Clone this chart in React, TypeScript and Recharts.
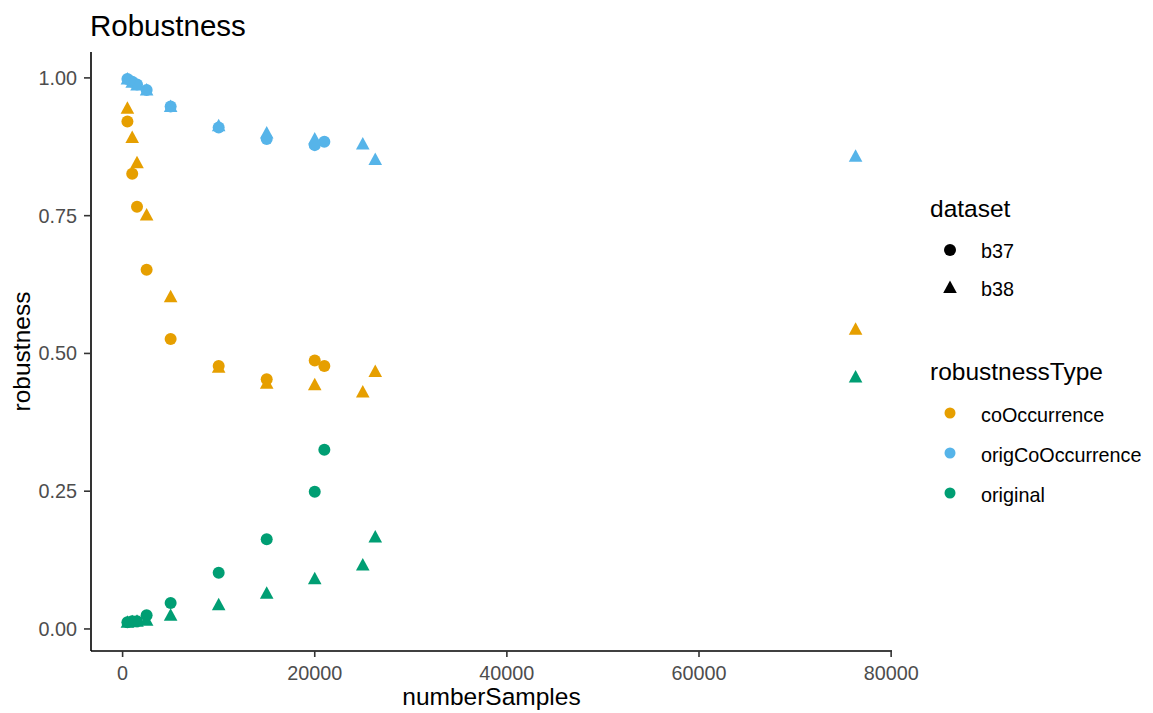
import React from "react";
import { ScatterChart, Scatter, XAxis, YAxis } from "recharts";

// sample counts per dataset
const samplesB37 = [500, 1000, 1500, 2500, 5000, 10000, 15000, 20000, 21000];
const samplesB38 = [500, 1000, 1500, 2500, 5000, 10000, 15000, 20000, 25000, 26300, 76300];

// robustness values, b37 (circles)
const coOccurrenceB37 = [0.921, 0.826, 0.766, 0.652, 0.526, 0.477, 0.453, 0.487, 0.477];
const origCoOccurrenceB37 = [0.998, 0.993, 0.988, 0.978, 0.948, 0.91, 0.889, 0.878, 0.884];
const originalB37 = [0.012, 0.014, 0.014, 0.025, 0.047, 0.102, 0.163, 0.249, 0.325];

// robustness values, b38 (triangles)
const coOccurrenceB38 = [0.945, 0.892, 0.846, 0.751, 0.603, 0.475, 0.446, 0.443, 0.43, 0.467, 0.544];
const origCoOccurrenceB38 = [0.998, 0.992, 0.987, 0.978, 0.948, 0.913, 0.9, 0.889, 0.88, 0.852, 0.858];
const originalB38 = [0.012, 0.013, 0.014, 0.016, 0.025, 0.044, 0.065, 0.091, 0.116, 0.167, 0.457];

const xTicks = [0, 20000, 40000, 60000, 80000];
const yTicks = [0, 0.25, 0.5, 0.75, 1];

const typeNames = ["coOccurrence", "origCoOccurrence", "original"];
const typeColors = ["#E69F00", "#56B4E9", "#009E73"];
const datasetNames = ["b37", "b38"];

const FONT = "'Liberation Sans', Arial, sans-serif";
const W = 1137;
const H = 705;

const toPoints = (xs: number[], ys: number[]) => xs.map((x, i) => ({ x, y: ys[i] }));

function Mark({ cx, cy, fill, kind }: { cx: number; cy: number; fill: string; kind: string }) {
  if (cx == null || cy == null) return null;
  if (kind === "triangle") {
    return <polygon points={`${cx},${cy - 7} ${cx - 6.8},${cy + 5.5} ${cx + 6.8},${cy + 5.5}`} fill={fill} />;
  }
  return <circle cx={cx} cy={cy} r={6} fill={fill} />;
}

const series = [
  { name: "coOccurrence b37", data: toPoints(samplesB37, coOccurrenceB37), color: typeColors[0], kind: "circle" },
  { name: "origCoOccurrence b37", data: toPoints(samplesB37, origCoOccurrenceB37), color: typeColors[1], kind: "circle" },
  { name: "original b37", data: toPoints(samplesB37, originalB37), color: typeColors[2], kind: "circle" },
  { name: "coOccurrence b38", data: toPoints(samplesB38, coOccurrenceB38), color: typeColors[0], kind: "triangle" },
  { name: "origCoOccurrence b38", data: toPoints(samplesB38, origCoOccurrenceB38), color: typeColors[1], kind: "triangle" },
  { name: "original b38", data: toPoints(samplesB38, originalB38), color: typeColors[2], kind: "triangle" },
];

const tickStyle = { fontSize: 19.8, fill: "#4D4D4D", fontFamily: FONT };

export default function App() {
  return (
    <div style={{ position: "relative", width: W, height: H, fontFamily: FONT }}>
      <ScatterChart width={W} height={H} margin={{ top: 44, right: 253, bottom: 0, left: 0 }}>
        <XAxis
          dataKey="x"
          type="number"
          domain={[-3290, 80090]}
          allowDataOverflow
          ticks={xTicks}
          height={62}
          tickSize={6}
          tickMargin={9}
          tick={tickStyle}
          axisLine={{ stroke: "#000", strokeWidth: 1.6 }}
          tickLine={{ stroke: "#333", strokeWidth: 1.6 }}
          label={(p: any) => {
            const vb = p.viewBox;
            return (
              <text x={vb.x + vb.width / 2} y={H - 8} textAnchor="middle" fontSize={24.5} fill="#000" fontFamily={FONT}>
                numberSamples
              </text>
            );
          }}
        />
        <YAxis
          dataKey="y"
          type="number"
          domain={[-0.04, 1.047]}
          allowDataOverflow
          ticks={yTicks}
          width={83}
          tickSize={7}
          tickMargin={7}
          tickFormatter={(v: number) => v.toFixed(2)}
          tick={tickStyle}
          axisLine={{ stroke: "#000", strokeWidth: 1.6 }}
          tickLine={{ stroke: "#333", strokeWidth: 1.6 }}
          label={(p: any) => {
            const vb = p.viewBox;
            const cy = vb.y + vb.height / 2;
            return (
              <text
                x={13}
                y={cy}
                transform={`rotate(-90, 13, ${cy})`}
                textAnchor="middle"
                dominantBaseline="central"
                fontSize={24.5}
                fill="#000"
                fontFamily={FONT}
              >
                robustness
              </text>
            );
          }}
        />
        {series.map((s) => (
          <Scatter
            key={s.name}
            name={s.name}
            data={s.data}
            fill={s.color}
            isAnimationActive={false}
            shape={(p: any) => <Mark cx={p.cx} cy={p.cy} fill={s.color} kind={s.kind} />}
          />
        ))}
      </ScatterChart>
      <svg
        width={W}
        height={H}
        style={{ position: "absolute", left: 0, top: 0, pointerEvents: "none" }}
        fontFamily={FONT}
      >
        <text x={82} y={27.5} fontSize={29.5} fill="#000">
          Robustness
        </text>
        <text x={922} y={209} fontSize={24.5} fill="#000">
          dataset
        </text>
        {datasetNames.map((d, i) => (
          <g key={d}>
            <Mark cx={942} cy={242 + i * 37.5} fill="#000" kind={i === 0 ? "circle" : "triangle"} />
            <text x={973} y={250 + i * 37.5} fontSize={19.8} fill="#000">
              {d}
            </text>
          </g>
        ))}
        <text x={922} y={372} fontSize={24.5} fill="#000">
          robustnessType
        </text>
        {typeNames.map((t, i) => (
          <g key={t}>
            <circle cx={942} cy={405 + i * 40} r={5.5} fill={typeColors[i]} />
            <text x={973} y={414 + i * 40} fontSize={19.8} fill="#000">
              {t}
            </text>
          </g>
        ))}
      </svg>
    </div>
  );
}
